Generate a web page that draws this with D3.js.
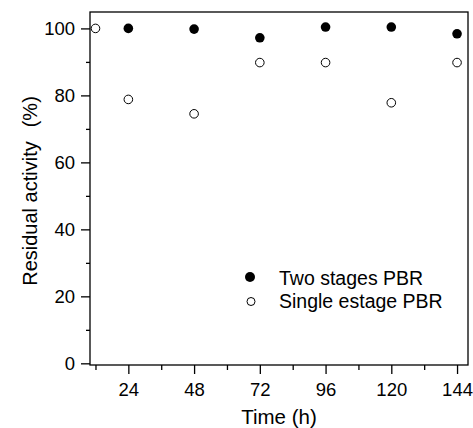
<!DOCTYPE html>
<html>
<head>
<meta charset="utf-8">
<script src="https://cdn.jsdelivr.net/npm/d3@7"></script>
<style>
  body { margin: 0; background: #fff; }
  text { font-family: "Liberation Sans", Arial, sans-serif; fill: #000; }
</style>
</head>
<body>
<div id="viz"></div>
<script>
// data
var twoTime = [24, 48, 72, 96, 120, 144];
var twoStage = [100, 99.8, 97.2, 100.4, 100.4, 98.4];
var singleTime = [12, 24, 48, 72, 96, 120, 144];
var singleStage = [100, 78.8, 74.5, 89.8, 89.8, 77.8, 89.8];
var xTicks = [24, 48, 72, 96, 120, 144];
var xMinor = [12, 36, 60, 84, 108, 132];
var yTicks = [0, 20, 40, 60, 80, 100];
var yMinor = [10, 30, 50, 70, 90];
var seriesNames = ["Two stages PBR", "Single estage PBR"];

var margin = { top: 12, right: 5, bottom: 63, left: 90 },
    width = 473 - margin.left - margin.right,
    height = 428 - margin.top - margin.bottom;

var svg = d3.select("#viz")
    .append("svg")
    .attr("width", 473)
    .attr("height", 428)
    .append("g")
    .attr("transform", "translate(" + margin.left + "," + margin.top + ")");

var x = d3.scaleLinear().domain([10, 148]).range([0, width]);
var y = d3.scaleLinear().domain([-0.5, 104.9]).range([height, 0]);

// x axis (major + minor)
svg.append("g")
    .attr("transform", "translate(0," + height + ")")
    .call(d3.axisBottom(x).tickValues(xTicks).tickSize(9).tickPadding(9).tickSizeOuter(0));
svg.append("g")
    .attr("transform", "translate(0," + height + ")")
    .call(d3.axisBottom(x).tickValues(xMinor).tickSize(5).tickFormat("").tickSizeOuter(0));

// y axis (major + minor)
svg.append("g")
    .call(d3.axisLeft(y).tickValues(yTicks).tickSize(9).tickPadding(6).tickSizeOuter(0));
svg.append("g")
    .call(d3.axisLeft(y).tickValues(yMinor).tickSize(4).tickFormat("").tickSizeOuter(0));

svg.selectAll(".tick text")
    .style("font-size", "18.5px")
    .style("font-family", "Liberation Sans, Arial, sans-serif");
svg.selectAll(".domain").remove();
svg.selectAll(".tick line").attr("stroke", "#000").attr("stroke-width", 1.3);

// frame
svg.append("rect")
    .attr("x", 0).attr("y", 0)
    .attr("width", width).attr("height", height)
    .attr("fill", "none")
    .attr("stroke", "#000")
    .attr("stroke-width", 1.3);

// points
svg.selectAll(".two")
    .data(twoTime)
    .enter()
    .append("circle")
    .attr("cx", function (d) { return x(d); })
    .attr("cy", function (d, i) { return y(twoStage[i]); })
    .attr("r", 4.8)
    .attr("fill", "#000");

svg.selectAll(".single")
    .data(singleTime)
    .enter()
    .append("circle")
    .attr("cx", function (d) { return x(d); })
    .attr("cy", function (d, i) { return y(singleStage[i]); })
    .attr("r", 4.3)
    .attr("fill", "#fff")
    .attr("stroke", "#000")
    .attr("stroke-width", 1);

// legend
var legend = svg.append("g").attr("transform", "translate(160,265)");
legend.selectAll("circle")
    .data(seriesNames)
    .enter()
    .append("circle")
    .attr("cx", function (d, i) { return i === 0 ? 0 : 1; })
    .attr("cy", function (d, i) { return i * 24.5; })
    .attr("r", function (d, i) { return i === 0 ? 5 : 4; })
    .attr("fill", function (d, i) { return i === 0 ? "#000" : "#fff"; })
    .attr("stroke", "#000")
    .attr("stroke-width", function (d, i) { return i === 0 ? 0 : 1; });
legend.selectAll("text")
    .data(seriesNames)
    .enter()
    .append("text")
    .attr("x", 29)
    .attr("y", function (d, i) { return i * 23 + 8; })
    .style("font-size", "19.5px")
    .text(function (d) { return d; });

// axis labels
svg.append("text")
    .attr("text-anchor", "middle")
    .attr("x", width / 2)
    .attr("y", 412)
    .style("font-size", "20.5px")
    .text("Time (h)");

var ylab = svg.append("text")
    .attr("text-anchor", "middle")
    .attr("transform", "rotate(-90)")
    .attr("x", -179)
    .attr("y", -53)
    .style("font-size", "20px");
ylab.append("tspan").text("Residual activity");
ylab.append("tspan").attr("dx", 14).text("(%)");
</script>
</body>
</html>
